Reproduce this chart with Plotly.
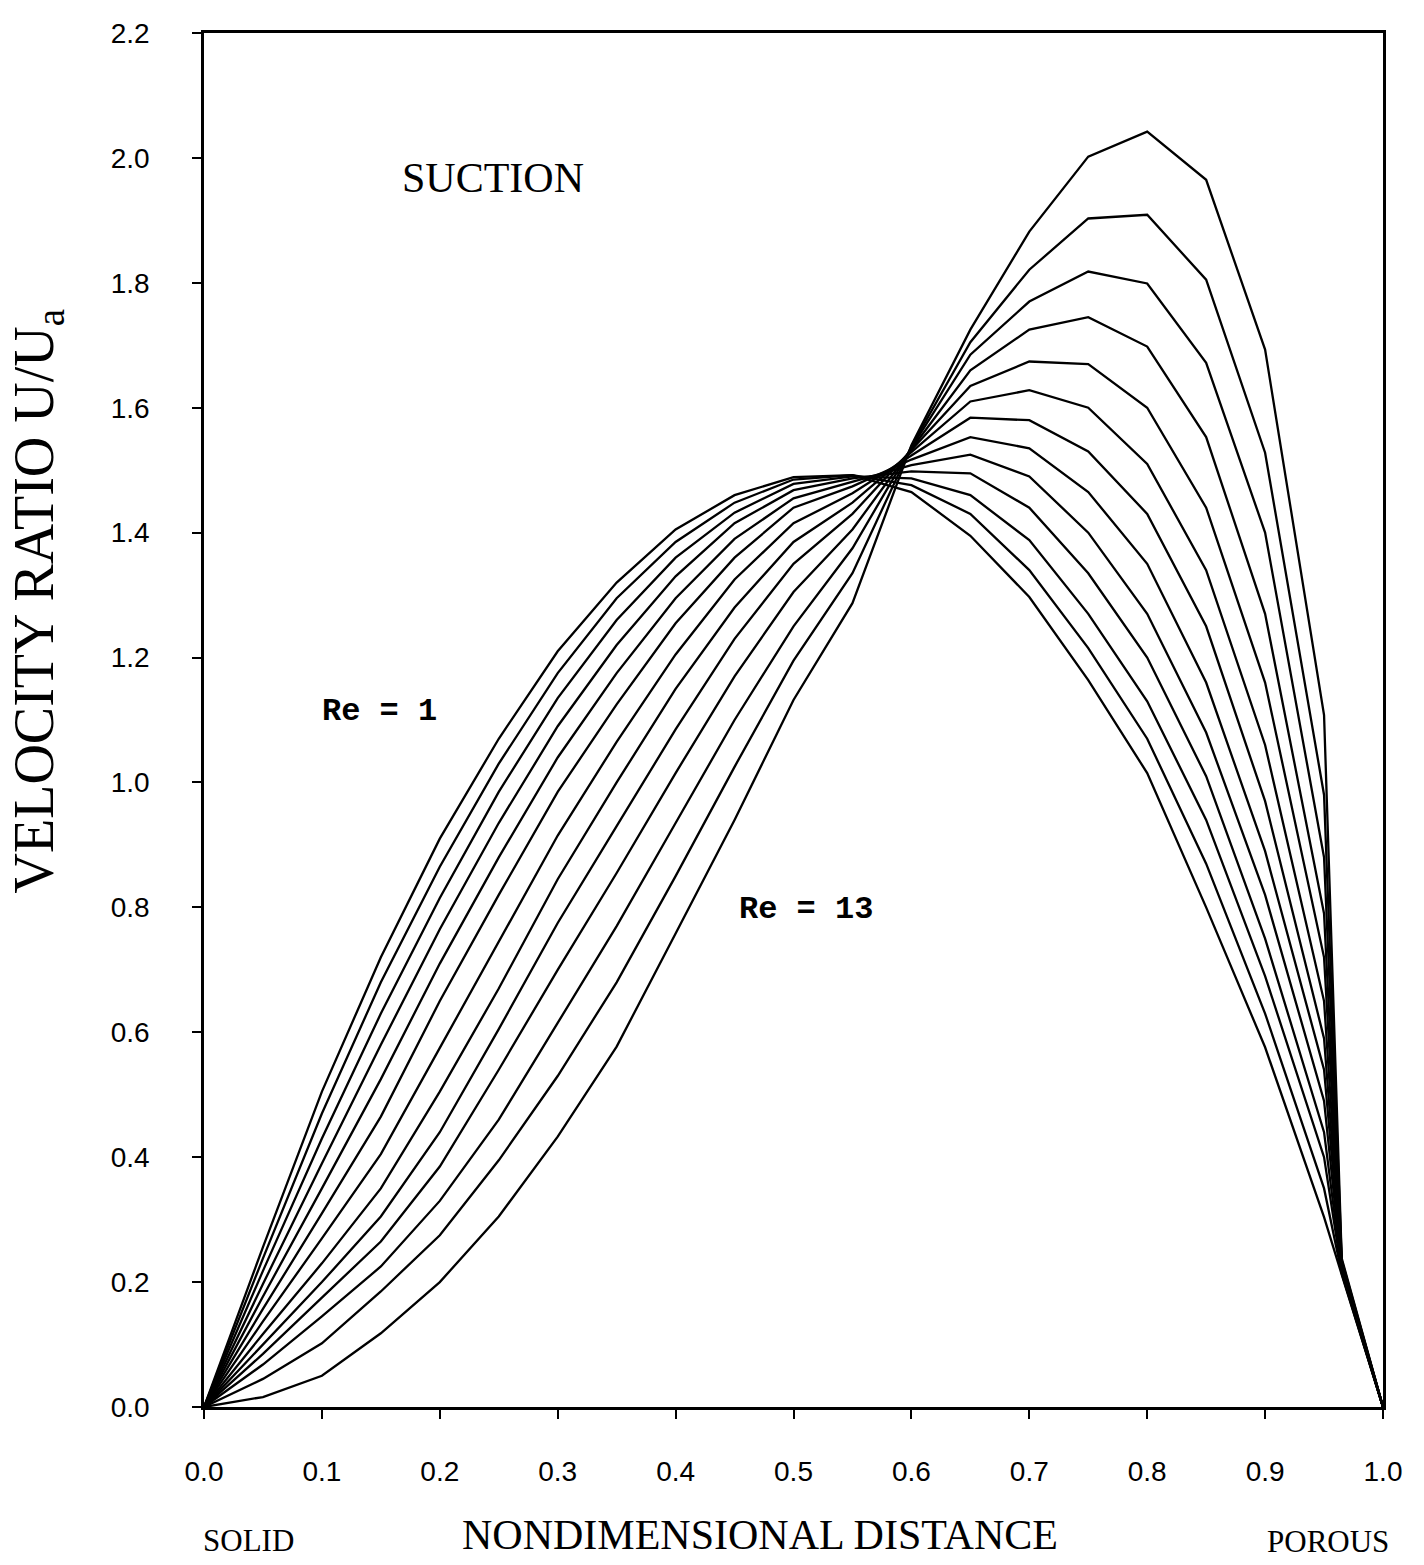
import plotly.graph_objects as go

# nondimensional distance grid
x = [0, 0.05, 0.1, 0.15, 0.2, 0.25, 0.3, 0.35, 0.4, 0.45, 0.5, 0.55,
     0.6, 0.65, 0.7, 0.75, 0.8, 0.85, 0.9, 0.95, 0.965, 1.0]

# velocity ratio for Re = 1 ... 13 (values by x position)
v_x000 = [0]*13
v_x005 = [0.256, 0.238, 0.218, 0.197, 0.177, 0.157, 0.137, 0.117, 0.100, 0.085, 0.068, 0.045, 0.016]
v_x010 = [0.505, 0.470, 0.430, 0.390, 0.350, 0.310, 0.270, 0.230, 0.200, 0.175, 0.145, 0.102, 0.050]
v_x015 = [0.720, 0.680, 0.630, 0.580, 0.525, 0.465, 0.405, 0.350, 0.305, 0.265, 0.225, 0.185, 0.118]
v_x020 = [0.910, 0.865, 0.815, 0.765, 0.710, 0.650, 0.575, 0.505, 0.440, 0.385, 0.330, 0.275, 0.200]
v_x025 = [1.070, 1.030, 0.985, 0.935, 0.880, 0.820, 0.745, 0.670, 0.605, 0.540, 0.460, 0.395, 0.305]
v_x030 = [1.210, 1.175, 1.135, 1.090, 1.040, 0.985, 0.915, 0.845, 0.775, 0.700, 0.615, 0.530, 0.433]
v_x035 = [1.320, 1.295, 1.260, 1.220, 1.175, 1.125, 1.065, 1.000, 0.930, 0.855, 0.770, 0.680, 0.577]
v_x040 = [1.405, 1.385, 1.360, 1.330, 1.295, 1.255, 1.205, 1.150, 1.085, 1.015, 0.935, 0.850, 0.758]
v_x045 = [1.460, 1.448, 1.432, 1.415, 1.390, 1.360, 1.325, 1.280, 1.230, 1.170, 1.100, 1.025, 0.940]
v_x050 = [1.489, 1.485, 1.478, 1.468, 1.455, 1.440, 1.415, 1.385, 1.350, 1.305, 1.250, 1.195, 1.132]
v_x055 = [1.492, 1.492, 1.490, 1.487, 1.482, 1.474, 1.463, 1.448, 1.430, 1.405, 1.375, 1.335, 1.287]
v_x060 = [1.465, 1.476, 1.487, 1.498, 1.508, 1.517, 1.524, 1.529, 1.532, 1.534, 1.536, 1.538, 1.540]
v_x065 = [1.395, 1.430, 1.460, 1.495, 1.525, 1.553, 1.584, 1.610, 1.635, 1.660, 1.685, 1.705, 1.725]
v_x070 = [1.297, 1.340, 1.388, 1.440, 1.490, 1.535, 1.580, 1.628, 1.674, 1.725, 1.770, 1.821, 1.882]
v_x075 = [1.164, 1.215, 1.270, 1.335, 1.400, 1.465, 1.530, 1.600, 1.670, 1.745, 1.818, 1.903, 2.002]
v_x080 = [1.015, 1.070, 1.130, 1.200, 1.270, 1.350, 1.430, 1.510, 1.600, 1.698, 1.799, 1.909, 2.042]
v_x085 = [0.800, 0.870, 0.940, 1.010, 1.080, 1.160, 1.250, 1.340, 1.440, 1.553, 1.672, 1.805, 1.965]
v_x090 = [0.576, 0.630, 0.690, 0.750, 0.820, 0.890, 0.970, 1.060, 1.160, 1.270, 1.400, 1.528, 1.693]
v_x095 = [0.304, 0.350, 0.400, 0.440, 0.490, 0.540, 0.590, 0.650, 0.720, 0.790, 0.880, 0.980, 1.108]
v_x0965 = [0.212, 0.214, 0.216, 0.218, 0.220, 0.222, 0.224, 0.226, 0.228, 0.230, 0.232, 0.235, 0.238]
v_x100 = [0]*13

rows = [v_x000, v_x005, v_x010, v_x015, v_x020, v_x025, v_x030, v_x035, v_x040,
        v_x045, v_x050, v_x055, v_x060, v_x065, v_x070, v_x075, v_x080, v_x085,
        v_x090, v_x095, v_x0965, v_x100]
reynolds = list(range(1, 14))

y_ticks = [0.0, 0.2, 0.4, 0.6, 0.8, 1.0, 1.2, 1.4, 1.6, 1.8, 2.0, 2.2]
y_labels = ["0.0", "0.2", "0.4", "0.6", "0.8", "1.0", "1.2", "1.4", "1.6", "1.8", "2.0", "2.2"]
x_ticks = [0.0, 0.1, 0.2, 0.3, 0.4, 0.5, 0.6, 0.7, 0.8, 0.9, 1.0]
x_labels = ["0.0", "0.1", "0.2", "0.3", "0.4", "0.5", "0.6", "0.7", "0.8", "0.9", "1.0"]

fig = go.Figure()
for i, re in enumerate(reynolds):
    fig.add_trace(go.Scatter(
        x=x, y=[r[i] for r in rows], mode="lines",
        line=dict(color="black", width=2.3),
        name=f"Re = {re}", showlegend=False, hoverinfo="skip"))

tickfont = dict(family="Liberation Sans, Arial, sans-serif", size=28, color="black")
serif = "Liberation Serif, Times New Roman, serif"
mono = "Liberation Mono, Courier New, monospace"

fig.update_layout(
    width=1424, height=1565,
    margin=dict(l=204, r=41, t=33, b=158),
    paper_bgcolor="white", plot_bgcolor="white",
    xaxis=dict(range=[0, 1], tickvals=x_ticks, ticktext=x_labels,
               showline=True, linecolor="black", linewidth=2.5, mirror=True,
               ticks="outside", ticklen=9, tickwidth=2, tickcolor="black",
               showgrid=False, zeroline=False, tickfont=tickfont,
               ticklabelstandoff=29),
    yaxis=dict(range=[0, 2.2], tickvals=y_ticks, ticktext=y_labels,
               showline=True, linecolor="black", linewidth=2.5, mirror=True,
               ticks="outside", ticklen=9, tickwidth=2, tickcolor="black",
               showgrid=False, zeroline=False, tickfont=tickfont,
               ticklabelstandoff=37),
)

ann = [
    dict(text="SUCTION", x=0.245, y=1.968, xref="x", yref="y",
         font=dict(family=serif, size=42, color="black")),
    dict(text="<b>Re = 1</b>", x=0.149, y=1.113, xref="x", yref="y",
         font=dict(family=mono, size=32, color="black")),
    dict(text="<b>Re = 13</b>", x=0.511, y=0.796, xref="x", yref="y",
         font=dict(family=mono, size=32, color="black")),
    dict(text="NONDIMENSIONAL DISTANCE", x=0.4716, y=-0.0932, xref="paper", yref="paper",
         font=dict(family=serif, size=42, color="black")),
    dict(text="SOLID", x=0.038, y=-0.0968, xref="paper", yref="paper",
         font=dict(family=serif, size=31, color="black")),
    dict(text="POROUS", x=0.953, y=-0.098, xref="paper", yref="paper",
         font=dict(family=serif, size=31, color="black")),
    dict(text="VELOCITY RATIO U/U<sub>a</sub>", x=-0.1408, y=0.587, xref="paper", yref="paper",
         textangle=-90, font=dict(family=serif, size=56, color="black")),
]
for a in ann:
    a.update(showarrow=False, xanchor="center", yanchor="middle")
fig.update_layout(annotations=ann)

fig.write_html("out.html")
